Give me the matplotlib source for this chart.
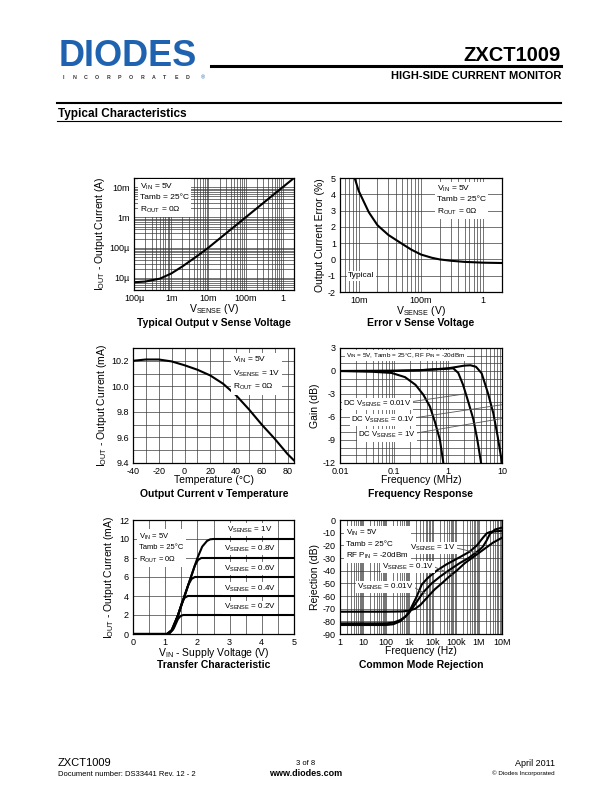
import matplotlib
matplotlib.use('Agg')
import matplotlib.pyplot as plt
import matplotlib.ticker as mticker
import numpy as np

plt.rcParams['font.family'] = ['Liberation Sans', 'DejaVu Sans']
plt.rcParams['mathtext.fontset'] = 'custom'
plt.rcParams['mathtext.rm'] = 'Liberation Sans'
plt.rcParams['mathtext.it'] = 'Liberation Sans:italic'
plt.rcParams['mathtext.bf'] = 'Liberation Sans:bold'
plt.rcParams['axes.unicode_minus'] = False

# --- data ---
# 1) Typical output v sense voltage
vsense1 = [1e-4, 2e-4, 5e-4, 1e-3, 2e-3, 5e-3, 1e-2, 2e-2, 5e-2, 0.1, 0.2, 0.5, 1.0, 2.0]
iout1 = [7.2e-6, 7.6e-6, 9.5e-6, 1.4e-5, 2.4e-5, 5.3e-5, 1.0e-4, 2.0e-4, 5.0e-4,
         1.0e-3, 2.0e-3, 5.0e-3, 1.0e-2, 2.0e-2]

# 2) Error v sense voltage
vsense2 = [8.6e-3, 0.01, 0.0145, 0.02, 0.03, 0.05, 0.07, 0.1, 0.15, 0.2, 0.3, 0.5, 1.0, 2.0]
err2 = [5.0, 4.2, 2.9, 2.1, 1.5, 0.95, 0.6, 0.3, 0.1, 0.0, -0.08, -0.15, -0.2, -0.22]

# 3) Output current v temperature
temp3 = [-40, -30, -20, -10, 0, 10, 20, 30, 40, 50, 60, 70, 80, 85]
iout3 = [10.20, 10.21, 10.21, 10.195, 10.165, 10.13, 10.085, 10.02, 9.93, 9.82, 9.70, 9.59, 9.47, 9.42]

# 4) Frequency response (MHz, dB)
f4_001 = [0.01, 0.04, 0.09, 0.16, 0.25, 0.35, 0.46, 0.57, 0.71, 0.82]
g4_001 = [0.0, -0.1, -0.25, -0.8, -1.8, -3.1, -4.6, -6.6, -9.0, -12.0]
f4_01 = [0.01, 0.1, 0.3, 0.6, 1.0, 1.25, 1.55, 1.9, 2.37, 2.95, 3.5, 4.1]
g4_01 = [0.0, 0.05, 0.1, 0.2, 0.3, 0.35, -0.25, -1.8, -4.0, -6.3, -9.0, -12.0]
f4_1 = [0.01, 0.1, 0.3, 1.0, 1.5, 2.0, 2.6, 3.3, 4.2, 5.5, 6.9, 8.3, 10.0]
g4_1 = [0.0, 0.0, 0.1, 0.35, 0.55, 0.7, 0.75, 0.55, -0.3, -2.9, -5.5, -8.5, -12.0]

# 5) Transfer characteristic (V, mA) for each V_SENSE
vin5 = {
    '1V': [0, 1.05, 1.2, 1.4, 1.6, 1.8, 2.0, 2.15, 2.3, 2.4, 2.5, 5],
    '0.8V': [0, 1.06, 1.2, 1.4, 1.6, 1.8, 1.92, 2.02, 2.12, 5],
    '0.6V': [0, 1.08, 1.22, 1.4, 1.6, 1.72, 1.82, 1.92, 5],
    '0.4V': [0, 1.1, 1.25, 1.4, 1.52, 1.6, 1.7, 5],
    '0.2V': [0, 1.12, 1.28, 1.4, 1.48, 1.56, 5],
}
iout5 = {
    '1V': [0, 0, 0.4, 2.0, 4.0, 6.0, 8.0, 9.2, 9.8, 9.97, 10.0, 10.0],
    '0.8V': [0, 0, 0.4, 2.0, 4.0, 6.0, 7.2, 7.8, 8.0, 8.0],
    '0.6V': [0, 0, 0.4, 2.0, 4.0, 5.2, 5.8, 6.0, 6.0],
    '0.4V': [0, 0, 0.5, 2.0, 3.3, 3.8, 4.0, 4.0],
    '0.2V': [0, 0, 0.7, 1.6, 1.9, 2.0, 2.0],
}
label5_y = {'1V': 11.0, '0.8V': 9.0, '0.6V': 6.9, '0.4V': 4.8, '0.2V': 2.8}

# 6) Common mode rejection (Hz, dB)
f6_a = [1, 100, 200, 400, 700, 1e3, 2e3, 3.4e3, 6e3, 1.5e4, 4e4, 1.3e5, 4e5, 8.3e5, 1.5e6, 2.2e6, 3e6, 5e6, 1e7]
r6_a = [-82.9, -82.9, -82.3, -80, -76, -72, -61, -51, -46, -40, -35, -30, -25, -20, -14, -10.5, -9.5, -9, -8.5]
f6_b = [1, 100, 200, 400, 700, 1e3, 2e3, 4e3, 9.2e3, 2e4, 4.8e4, 1.5e5, 3.6e5, 1e6, 1.5e6, 2.2e6, 3e6, 5e6, 1e7]
r6_b = [-81.6, -81.6, -81, -79, -76, -73, -65, -57, -50, -45, -40, -34, -30, -24, -21, -16, -11, -7.5, -6]
f6_c = [1, 100, 500, 1e3, 1.8e3, 3e3, 6e3, 1.2e4, 2.5e4, 5e4, 1.1e5, 2.5e5, 5e5, 1e6, 2e6, 4e6, 1e7]
r6_c = [-72.4, -72.4, -72.2, -71.5, -70, -67, -61, -55, -50, -45, -40, -34, -30, -26, -22, -18, -14]

W, H = 612, 792
fig = plt.figure(figsize=(6.12, 7.92), dpi=100)


def rect(l, r, t, b):
    return [l / W, 1 - b / H, (r - l) / W, (b - t) / H]


def style(ax):
    for s in ax.spines.values():
        s.set_linewidth(0.9)
        s.set_color('black')
    ax.tick_params(which='both', length=0, labelsize=6.5, pad=3)
    ax.grid(which='both', color='#3c3c3c', lw=0.5)
    ax.set_axisbelow(True)


def box_text(ax, x, y, s, ha='left', va='top', size=6, **kw):
    ax.text(x, y, s, transform=ax.transAxes, ha=ha, va=va, fontsize=size,
            linespacing=1.5, zorder=4,
            bbox=dict(facecolor='white', edgecolor='none', pad=1.5), **kw)


LW = 1.5
lab_fs = 7.5
tit_fs = 7.5

# --- header ---
fig.text(59 / W, 1 - 66 / H, 'DIODES', fontsize=26, fontweight='bold', color='#1f63b0',
         ha='left', va='baseline')
for i, ch in enumerate('INCORPORATED'):
    fig.text((63 + i * 11.3) / W, 1 - 79 / H, ch, fontsize=3.8, fontweight='bold',
             color='#333333', ha='center', va='baseline')
fig.text(203 / W, 1 - 79 / H, '®', fontsize=4, color='#1f63b0', ha='center', va='baseline')
fig.add_artist(plt.Line2D([211 / W, 561 / W], [1 - 66 / H, 1 - 66 / H], color='black', lw=2.2))
fig.text(561 / W, 1 - 61 / H, 'ZXCT1009', fontsize=14.5, fontweight='bold', ha='right', va='baseline')
fig.text(561 / W, 1 - 79 / H, 'HIGH-SIDE CURRENT MONITOR', fontsize=8, fontweight='bold',
         ha='right', va='baseline')
fig.add_artist(plt.Line2D([57 / W, 561 / W], [1 - 103 / H, 1 - 103 / H], color='black', lw=1.5))
fig.text(58 / W, 1 - 117 / H, 'Typical Characteristics', fontsize=8.5, fontweight='bold',
         ha='left', va='baseline')
fig.add_artist(plt.Line2D([57 / W, 561 / W], [1 - 121 / H, 1 - 121 / H], color='black', lw=0.8))

# --- 1) output v sense voltage ---
ax1 = fig.add_axes(rect(134, 294, 178, 290))
ax1.plot(vsense1, iout1, color='black', lw=LW)
ax1.set_xscale('log')
ax1.set_yscale('log')
ax1.set_xlim(1e-4, 2)
ax1.set_ylim(4e-6, 2e-2)
ax1.xaxis.set_major_locator(mticker.FixedLocator([1e-4, 1e-3, 1e-2, 1e-1, 1]))
ax1.xaxis.set_major_formatter(mticker.FixedFormatter(['100µ', '1m', '10m', '100m', '1']))
ax1.yaxis.set_major_locator(mticker.FixedLocator([1e-5, 1e-4, 1e-3, 1e-2]))
ax1.yaxis.set_major_formatter(mticker.FixedFormatter(['10µ', '100µ', '1m', '10m']))
for a in (ax1.xaxis, ax1.yaxis):
    a.set_minor_locator(mticker.LogLocator(subs=np.arange(2, 10), numticks=20))
    a.set_minor_formatter(mticker.NullFormatter())
style(ax1)
ax1.set_xlabel(r'V$_{\mathrm{SENSE}}$ (V)', fontsize=lab_fs, labelpad=-1)
ax1.set_ylabel(r'I$_{\mathrm{OUT}}$ - Output Current (A)', fontsize=lab_fs, labelpad=2)
box_text(ax1, 0.04, 0.97, 'V$_{\\mathrm{IN}}$ = 5V\nTamb = 25°C\nR$_{\\mathrm{OUT}}$ = 0Ω')
fig.text(214 / W, 1 - 326 / H, 'Typical Output v Sense Voltage', fontsize=tit_fs,
         fontweight='bold', ha='center', va='baseline')

# --- 2) error v sense voltage ---
ax2 = fig.add_axes(rect(340, 502, 178, 292))
ax2.plot(vsense2, err2, color='black', lw=LW)
ax2.set_xscale('log')
ax2.set_xlim(5e-3, 2)
ax2.set_ylim(-2, 5)
ax2.xaxis.set_major_locator(mticker.FixedLocator([1e-2, 1e-1, 1]))
ax2.xaxis.set_major_formatter(mticker.FixedFormatter(['10m', '100m', '1']))
ax2.xaxis.set_minor_locator(mticker.LogLocator(subs=np.arange(2, 10), numticks=20))
ax2.xaxis.set_minor_formatter(mticker.NullFormatter())
ax2.yaxis.set_major_locator(mticker.MultipleLocator(1))
style(ax2)
ax2.set_xlabel(r'V$_{\mathrm{SENSE}}$ (V)', fontsize=lab_fs, labelpad=-1)
ax2.set_ylabel('Output Current Error (%)', fontsize=lab_fs, labelpad=2)
box_text(ax2, 0.60, 0.95, 'V$_{\\mathrm{IN}}$ = 5V\nTamb = 25°C\nR$_{\\mathrm{OUT}}$ = 0Ω')
ax2.text(0.05, 1 / 7, 'Typical', transform=ax2.transAxes, ha='left', va='center', fontsize=6,
         zorder=4, bbox=dict(facecolor='white', edgecolor='none', pad=1))
fig.text(421 / W, 1 - 326 / H, 'Error v Sense Voltage', fontsize=tit_fs,
         fontweight='bold', ha='center', va='baseline')

# --- 3) output current v temperature ---
ax3 = fig.add_axes(rect(133, 294, 348, 463))
ax3.plot(temp3, iout3, color='black', lw=LW)
ax3.set_xlim(-40, 85)
ax3.set_ylim(9.4, 10.3)
ax3.xaxis.set_major_locator(mticker.MultipleLocator(20))
ax3.xaxis.set_minor_locator(mticker.MultipleLocator(10))
ax3.yaxis.set_major_locator(mticker.FixedLocator([9.4, 9.6, 9.8, 10.0, 10.2]))
ax3.yaxis.set_major_formatter(mticker.FormatStrFormatter('%.1f'))
ax3.yaxis.set_minor_locator(mticker.MultipleLocator(0.1))
style(ax3)
ax3.set_xlabel('Temperature (°C)', fontsize=lab_fs, labelpad=-1)
ax3.set_ylabel(r'I$_{\mathrm{OUT}}$ - Output Current (mA)', fontsize=lab_fs, labelpad=2)
box_text(ax3, 0.62, 0.94, 'V$_{\\mathrm{IN}}$ = 5V\nV$_{\\mathrm{SENSE}}$ = 1V\nR$_{\\mathrm{OUT}}$ = 0Ω')
fig.text(214 / W, 1 - 497 / H, 'Output Current v Temperature', fontsize=tit_fs,
         fontweight='bold', ha='center', va='baseline')

# --- 4) frequency response ---
ax4 = fig.add_axes(rect(340, 502, 348, 463))
for f, g in ((f4_001, g4_001), (f4_01, g4_01), (f4_1, g4_1)):
    ax4.plot(f, g, color='black', lw=LW)
ax4.set_xscale('log')
ax4.set_xlim(0.01, 10)
ax4.set_ylim(-12, 3)
ax4.xaxis.set_major_locator(mticker.FixedLocator([0.01, 0.1, 1, 10]))
ax4.xaxis.set_major_formatter(mticker.FixedFormatter(['0.01', '0.1', '1', '10']))
ax4.xaxis.set_minor_locator(mticker.LogLocator(subs=np.arange(2, 10), numticks=20))
ax4.xaxis.set_minor_formatter(mticker.NullFormatter())
ax4.yaxis.set_major_locator(mticker.MultipleLocator(3))
ax4.yaxis.set_minor_locator(mticker.MultipleLocator(1))
style(ax4)
ax4.set_xlabel('Frequency (MHz)', fontsize=lab_fs, labelpad=-1)
ax4.set_ylabel('Gain (dB)', fontsize=lab_fs, labelpad=2)
ax4.text(0.04, 14 / 15, 'V$_{\\mathrm{IN}}$ = 5V, Tamb = 25°C, RF P$_{\\mathrm{IN}}$ = -20dBm',
         transform=ax4.transAxes, fontsize=4.6, ha='left', va='center', zorder=4,
         bbox=dict(facecolor='white', edgecolor='none', pad=1))
dc_labels = [('DC V$_{\\mathrm{SENSE}}$ = 0.01V', 0.0115, -4.3, (2.0, -3.0)),
             ('DC V$_{\\mathrm{SENSE}}$ = 0.1V', 0.016, -6.4, (10, -4.4)),
             ('DC V$_{\\mathrm{SENSE}}$ = 1V', 0.022, -8.4, (10, -6.2))]
for s, x, y, tip in dc_labels:
    t = ax4.text(x, y, s, fontsize=5.6, ha='left', va='center', zorder=4,
                 bbox=dict(facecolor='white', edgecolor='none', pad=0.8))
    fig.canvas.draw()
    bb = t.get_window_extent().transformed(ax4.transData.inverted())
    ax4.plot([bb.x1, tip[0]], [y + 0.3, tip[1]], color='#555555', lw=0.6, zorder=3)
fig.text(421 / W, 1 - 497 / H, 'Frequency Response', fontsize=tit_fs,
         fontweight='bold', ha='center', va='baseline')

# --- 5) transfer characteristic ---
ax5 = fig.add_axes(rect(133, 294, 520, 634))
for k in vin5:
    ax5.plot(vin5[k], iout5[k], color='black', lw=LW)
    ax5.text(3.62, label5_y[k], 'V$_{\\mathrm{SENSE}}$ = ' + k, fontsize=5.8, ha='center', va='center',
             zorder=4, bbox=dict(facecolor='white', edgecolor='none', pad=1))
ax5.set_xlim(0, 5)
ax5.set_ylim(0, 12)
ax5.xaxis.set_major_locator(mticker.MultipleLocator(1))
ax5.xaxis.set_minor_locator(mticker.MultipleLocator(0.5))
ax5.yaxis.set_major_locator(mticker.MultipleLocator(2))
style(ax5)
ax5.set_xlabel(r'V$_{\mathrm{IN}}$ - Supply Voltage (V)', fontsize=lab_fs, labelpad=-1)
ax5.set_ylabel(r'I$_{\mathrm{OUT}}$ - Output Current (mA)', fontsize=lab_fs, labelpad=2)
box_text(ax5, 0.04, 0.9, 'V$_{\\mathrm{IN}}$ = 5V\nTamb = 25°C\nR$_{\\mathrm{OUT}}$ = 0Ω', size=5.5)
fig.text(214 / W, 1 - 668 / H, 'Transfer Characteristic', fontsize=tit_fs,
         fontweight='bold', ha='center', va='baseline')

# --- 6) common mode rejection ---
ax6 = fig.add_axes(rect(340, 502, 520, 634))
for f, r in ((f6_a, r6_a), (f6_b, r6_b), (f6_c, r6_c)):
    ax6.plot(f, r, color='black', lw=LW)
ax6.set_xscale('log')
ax6.set_xlim(1, 1e7)
ax6.set_ylim(-90, 0)
ax6.xaxis.set_major_locator(mticker.FixedLocator([1, 10, 100, 1e3, 1e4, 1e5, 1e6, 1e7]))
ax6.xaxis.set_major_formatter(mticker.FixedFormatter(['1', '10', '100', '1k', '10k', '100k', '1M', '10M']))
ax6.xaxis.set_minor_locator(mticker.LogLocator(subs=np.arange(2, 10), numticks=20))
ax6.xaxis.set_minor_formatter(mticker.NullFormatter())
ax6.yaxis.set_major_locator(mticker.MultipleLocator(10))
style(ax6)
ax6.set_xlabel('Frequency (Hz)', fontsize=lab_fs, labelpad=-1)
ax6.set_ylabel('Rejection (dB)', fontsize=lab_fs, labelpad=2)
box_text(ax6, 0.04, 0.93, 'V$_{\\mathrm{IN}}$ = 5V\nTamb = 25°C\nRF P$_{\\mathrm{IN}}$ = -20dBm', size=5.8)
cm_labels = [('V$_{\\mathrm{SENSE}}$ = 1V', 1.1e3, -22, (8.5e5, -26)),
             ('V$_{\\mathrm{SENSE}}$ = 0.1V', 66, -37, (7e4, -43)),
             ('V$_{\\mathrm{SENSE}}$ = 0.01V', 5.4, -53, (4.8e3, -58))]
for s, x, y, tip in cm_labels:
    t = ax6.text(x, y, s, fontsize=5.8, ha='left', va='center', zorder=4,
                 bbox=dict(facecolor='white', edgecolor='none', pad=0.8))
    fig.canvas.draw()
    bb = t.get_window_extent().transformed(ax6.transData.inverted())
    ax6.plot([bb.x1, tip[0]], [y, tip[1]], color='#555555', lw=0.6, zorder=3)
fig.text(421 / W, 1 - 668 / H, 'Common Mode Rejection', fontsize=tit_fs,
         fontweight='bold', ha='center', va='baseline')

# --- footer ---
fig.text(58 / W, 1 - 766 / H, 'ZXCT1009', fontsize=8, ha='left', va='baseline')
fig.text(58 / W, 1 - 776 / H, 'Document number: DS33441 Rev. 12 - 2', fontsize=5.5, ha='left', va='baseline')
fig.text(306 / W, 1 - 765 / H, '3 of 8', fontsize=5.5, ha='center', va='baseline')
fig.text(306 / W, 1 - 776 / H, 'www.diodes.com', fontsize=6.5, fontweight='bold', ha='center', va='baseline')
fig.text(555 / W, 1 - 766 / H, 'April 2011', fontsize=6.5, ha='right', va='baseline')
fig.text(555 / W, 1 - 775 / H, '© Diodes Incorporated', fontsize=4.5, ha='right', va='baseline')

fig.savefig('out.png', dpi=100)
